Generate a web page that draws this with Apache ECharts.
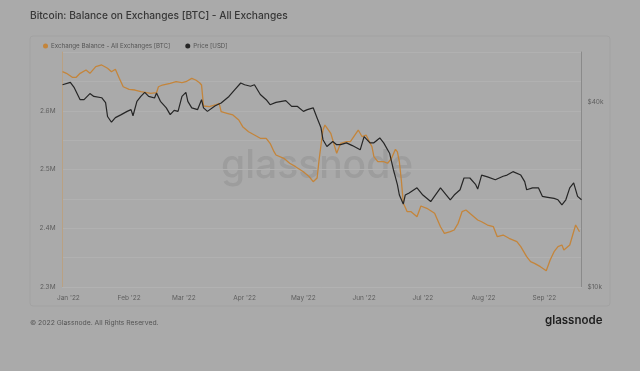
<!DOCTYPE html>
<html><head><meta charset="utf-8">
<script src="https://cdn.jsdelivr.net/npm/echarts@6/dist/echarts.min.js"></script>
<style>html,body{margin:0;padding:0;background:#aaaaaa}#c{width:640px;height:371px}</style>
</head><body><div id="c"></div>
<script>
const balanceDates = ['2021-12-29','2021-12-31','2022-01-03','2022-01-05','2022-01-07','2022-01-10','2022-01-12','2022-01-15','2022-01-18','2022-01-21','2022-01-23','2022-01-25','2022-01-27','2022-01-29','2022-02-01','2022-02-04','2022-02-07','2022-02-10','2022-02-12','2022-02-15','2022-02-16','2022-02-18','2022-02-22','2022-02-25','2022-02-28','2022-03-02','2022-03-05','2022-03-07','2022-03-09','2022-03-10','2022-03-11','2022-03-14','2022-03-17','2022-03-19','2022-03-20','2022-03-23','2022-03-26','2022-03-29','2022-03-31','2022-04-03','2022-04-06','2022-04-09','2022-04-12','2022-04-14','2022-04-16','2022-04-17','2022-04-21','2022-04-24','2022-04-27','2022-05-01','2022-05-04','2022-05-06','2022-05-08','2022-05-09','2022-05-10','2022-05-11','2022-05-12','2022-05-13','2022-05-15','2022-05-17','2022-05-18','2022-05-20','2022-05-23','2022-05-25','2022-05-29','2022-05-31','2022-06-02','2022-06-05','2022-06-06','2022-06-08','2022-06-11','2022-06-13','2022-06-15','2022-06-17','2022-06-18','2022-06-19','2022-06-20','2022-06-21','2022-06-23','2022-06-25','2022-06-28','2022-06-30','2022-07-03','2022-07-07','2022-07-10','2022-07-12','2022-07-15','2022-07-17','2022-07-19','2022-07-21','2022-07-23','2022-07-26','2022-07-29','2022-07-31','2022-08-03','2022-08-04','2022-08-06','2022-08-08','2022-08-11','2022-08-14','2022-08-18','2022-08-20','2022-08-23','2022-08-25','2022-08-27','2022-08-30','2022-09-02','2022-09-04','2022-09-06','2022-09-08','2022-09-10','2022-09-11','2022-09-14','2022-09-15','2022-09-17','2022-09-18','2022-09-19'];
const balanceValues = [2666500,2663700,2656900,2656900,2663700,2669400,2663700,2675000,2677900,2672300,2666500,2670600,2655200,2640900,2636500,2635300,2632400,2630700,2629700,2630700,2640900,2643800,2646700,2649400,2647700,2649400,2655200,2652300,2647700,2643800,2608100,2606900,2609800,2612700,2598400,2595700,2592800,2584300,2572900,2564300,2558700,2553100,2553100,2544600,2530300,2524700,2519100,2510600,2504800,2496300,2487700,2479200,2485500,2516200,2541700,2567200,2575700,2578600,2561600,2538800,2527600,2544600,2547300,2547300,2567200,2555800,2558700,2538800,2521800,2513300,2513300,2510600,2519100,2534400,2529800,2512800,2482100,2443000,2428200,2428200,2419700,2437900,2434000,2425400,2402600,2391400,2394100,2397000,2408400,2428200,2431100,2422600,2414000,2411100,2405500,2408400,2402600,2385600,2388500,2382900,2377100,2368600,2351600,2343100,2340300,2334600,2327700,2346000,2360100,2368600,2371500,2363000,2371500,2374400,2405500,2408400,2394100];
const priceDates = ['2021-12-29','2022-01-02','2022-01-04','2022-01-07','2022-01-09','2022-01-12','2022-01-14','2022-01-18','2022-01-20','2022-01-21','2022-01-23','2022-01-25','2022-01-28','2022-01-31','2022-02-02','2022-02-03','2022-02-05','2022-02-07','2022-02-09','2022-02-11','2022-02-14','2022-02-15','2022-02-17','2022-02-20','2022-02-22','2022-02-24','2022-02-26','2022-02-28','2022-03-02','2022-03-03','2022-03-05','2022-03-08','2022-03-10','2022-03-11','2022-03-13','2022-03-17','2022-03-20','2022-03-24','2022-03-27','2022-03-30','2022-04-01','2022-04-04','2022-04-06','2022-04-09','2022-04-12','2022-04-14','2022-04-17','2022-04-22','2022-04-25','2022-04-28','2022-05-01','2022-05-03','2022-05-06','2022-05-08','2022-05-10','2022-05-11','2022-05-13','2022-05-16','2022-05-18','2022-05-20','2022-05-23','2022-05-26','2022-05-30','2022-06-01','2022-06-04','2022-06-06','2022-06-09','2022-06-11','2022-06-14','2022-06-16','2022-06-18','2022-06-19','2022-06-21','2022-06-22','2022-06-24','2022-06-28','2022-07-01','2022-07-05','2022-07-06','2022-07-10','2022-07-11','2022-07-13','2022-07-15','2022-07-17','2022-07-20','2022-07-22','2022-07-25','2022-07-28','2022-07-29','2022-07-31','2022-08-03','2022-08-07','2022-08-11','2022-08-13','2022-08-16','2022-08-20','2022-08-22','2022-08-23','2022-08-26','2022-08-29','2022-08-31','2022-09-02','2022-09-06','2022-09-08','2022-09-10','2022-09-12','2022-09-14','2022-09-16','2022-09-18','2022-09-20'];
const priceValues = [45400,46200,44400,40600,40600,42500,41600,41200,39700,35800,34300,35500,36300,37200,37700,36000,40100,41600,42900,41600,41100,42700,40100,38200,36300,37500,37200,41600,42900,40100,38200,37700,40600,38200,37200,38800,39600,41600,43800,46000,45400,44900,45400,42200,40600,39100,39800,40300,38600,38600,37200,37700,38200,35400,32900,30100,28600,29700,29000,29000,29400,28800,27900,30800,29400,29400,30500,29400,27200,24000,21500,19900,18600,19900,20200,21000,19900,18950,18950,21000,21200,19900,19200,19900,20700,22600,22600,21500,20800,23100,22800,22300,22900,23100,23700,23100,22000,20700,21000,21000,19700,19600,19400,19200,18500,19200,21000,21800,19700,19200];
const priceTicks = [10000, 40000];
const priceTickLabels = ['$10k', '$40k'];
const monthNames = ['Jan','Feb','Mar','Apr','May','Jun','Jul','Aug','Sep','Oct','Nov','Dec'];
const balanceName = 'Exchange Balance - All Exchanges [BTC]';
const priceName = 'Price [USD]';

const FONT = 'Inter, "Noto Sans", sans-serif';
const toPts = (d, v) => d.map((s, i) => [new Date(s).getTime(), v[i]]);

const chart = echarts.init(document.getElementById('c'));
chart.setOption({
  backgroundColor: '#aaaaaa',
  animation: false,
  useUTC: true,
  textStyle: { fontFamily: FONT },
  title: {
    text: 'Bitcoin: Balance on Exchanges [BTC] - All Exchanges',
    left: 30, top: 11, padding: 0,
    textStyle: { fontSize: 10.2, fontWeight: 500, color: '#373737', fontFamily: FONT }
  },
  legend: {
    left: 43, top: 43, padding: 0, icon: 'circle', itemWidth: 5, itemHeight: 5, itemGap: 15,
    textStyle: { fontSize: 6.2, color: '#555555', fontFamily: FONT, padding: [0, 0, 0, -2] },
    data: [balanceName, priceName]
  },
  graphic: [
    { type: 'rect', shape: { x: 30, y: 36, width: 580, height: 270, r: 3 }, style: { fill: 'none', stroke: '#a2a2a2', lineWidth: 1 }, z: -1 },
    { type: 'text', left: 221, top: 147, z: 0, style: { text: 'glassnode', fontSize: 39, fontWeight: 500, fill: '#9d9d9d', fontFamily: FONT } },
    { type: 'text', left: 30, top: 319, style: { text: '\u00a9 2022 Glassnode. All Rights Reserved.', fontSize: 6.8, fill: '#555555', fontFamily: FONT } },
    { type: 'text', left: 545, top: 315, style: { text: 'glassnode', fontSize: 11.5, fontWeight: 600, fill: '#1f1f1f', fontFamily: FONT } }
  ],
  grid: { left: 62.5, right: 58.5, top: 52, bottom: 84 },
  xAxis: {
    type: 'time',
    min: new Date('2021-12-29').getTime(),
    max: new Date('2022-09-20').getTime(),
    splitNumber: 9,
    maxInterval: 31 * 86400000,
    axisLine: { show: true, lineStyle: { color: '#b2b2b2' } },
    axisTick: { show: false },
    splitLine: { show: false },
    axisLabel: {
      fontSize: 6.5, color: '#5e5e5e', margin: 8, fontFamily: FONT, hideOverlap: false,
      formatter: function (v) {
        const d = new Date(v);
        if (d.getUTCDate() !== 1) return '';
        return monthNames[d.getUTCMonth()] + " '" + String(d.getUTCFullYear()).slice(2);
      }
    }
  },
  yAxis: [
    {
      type: 'value', min: 2300000, max: 2700000, interval: 50000,
      axisLine: { show: true, lineStyle: { color: '#b9a183', width: 1 } },
      axisTick: { show: false },
      splitLine: { lineStyle: { color: '#b1b1b1', width: 1 } },
      axisLabel: {
        fontSize: 6.5, color: '#5e5e5e', margin: 7, fontFamily: FONT,
        formatter: function (v) {
          const k = Math.round(v / 10000);
          if (k % 10 !== 0 || k >= 270) return '';
          return (k / 100).toFixed(1) + 'M';
        }
      }
    },
    {
      type: 'log', logBase: 10, min: 10000, max: 58000,
      axisLine: { show: true, lineStyle: { color: '#8a8a8a', width: 1 } },
      axisTick: { show: false },
      splitLine: { show: false },
      axisLabel: {
        fontSize: 6.5, color: '#5e5e5e', margin: 6, fontFamily: FONT,
        customValues: priceTicks,
        formatter: function (v) {
          for (let i = 0; i < priceTicks.length; i++) {
            if (Math.abs(v - priceTicks[i]) < priceTicks[i] * 0.03) return priceTickLabels[i];
          }
          return '';
        }
      }
    }
  ],
  series: [
    {
      name: balanceName, type: 'line', yAxisIndex: 0, showSymbol: false, symbol: 'circle',
      lineStyle: { color: '#c4853b', width: 1.3 }, itemStyle: { color: '#c4853b' },
      data: toPts(balanceDates, balanceValues), z: 3
    },
    {
      name: priceName, type: 'line', yAxisIndex: 1, showSymbol: false, symbol: 'circle',
      lineStyle: { color: '#262626', width: 1.2 }, itemStyle: { color: '#262626' },
      data: toPts(priceDates, priceValues), z: 4
    }
  ]
});
</script>
</body></html>
